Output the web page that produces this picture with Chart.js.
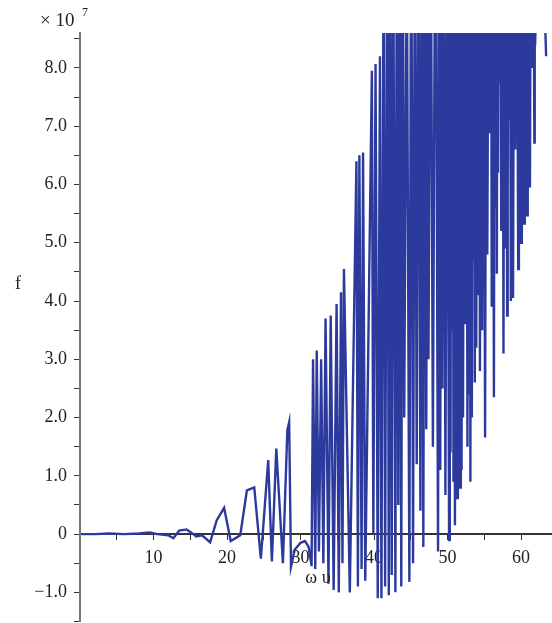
<!DOCTYPE html>
<html>
<head>
<meta charset="utf-8">
<script src="https://cdn.jsdelivr.net/npm/chart.js@4.4.1/dist/chart.umd.min.js"></script>
<style>
  html, body { margin: 0; padding: 0; background: #fff; }
  #wrap { width: 552px; height: 623px; position: relative; }
</style>
</head>
<body>
<div id="wrap"><canvas id="chart"></canvas></div>
<script>
// f values are in units of 10^7 (see the "× 10^7" label)
// quiet part, small oscillation
const omegaQuiet = [0.3, 2, 4, 6, 8, 9.5, 10.5, 12, 12.7, 13.5, 14.5, 15.2, 15.8, 16.6, 17.7, 18.6, 19.6, 20.5, 21.8, 22.7, 23.7, 24.6, 25.6, 26.1, 26.7, 27.6, 28.2, 28.45, 28.7, 29.2, 30, 30.6, 31.1, 31.5];
const fQuiet = [0, 0, 0.01, 0, 0.01, 0.03, 0, -0.02, -0.07, 0.06, 0.08, 0.02, -0.04, -0.02, -0.14, 0.24, 0.45, -0.12, -0.02, 0.75, 0.8, -0.42, 1.27, -0.47, 1.47, -0.5, 1.78, 1.92, -0.56, -0.27, -0.15, -0.12, -0.22, -0.55];

// onset of the big spikes
const omegaOnset = [31.7, 32.0, 32.2, 32.5, 32.8, 33.1, 33.4, 33.8, 34.1, 34.5, 34.9, 35.2, 35.5, 35.7, 35.9, 36.7, 37.6, 37.8, 38.0, 38.3, 38.5, 38.8, 39.7, 39.9, 40.2, 40.5, 40.8, 41.0, 41.3, 41.5, 41.8, 42.0, 42.2, 42.4, 42.6, 42.9, 43.1];
const fOnset = [3.0, -0.6, 3.15, -0.3, 3.0, -0.5, 3.7, -0.85, 3.75, -0.96, 3.95, -1.0, 4.15, -0.5, 4.55, -1.0, 6.4, -0.9, 6.5, -0.6, 6.55, -0.8, 7.95, 0.0, 8.07, -1.1, 8.2, -1.1, 10.4, -0.9, 11.2, -1.05, 9.9, -0.7, 10.8, -1.0, 11.5];

// saturated part, peaks run off the top of the plot
const omegaSat = [43.3, 43.5, 43.7, 43.9, 44.1, 44.45, 44.8, 45.05, 45.3, 45.55, 45.8, 46.05, 46.3, 46.5, 46.7, 46.9, 47.1, 47.25, 47.4, 47.7, 48.0, 48.35, 48.7, 48.85, 49.0, 49.15, 49.3, 49.5, 49.7, 49.95, 50.2, 50.3, 50.4, 50.5, 50.6, 50.7, 50.8, 50.9, 51.0, 51.15, 51.3, 51.4, 51.5, 51.6, 51.7, 51.8, 51.9, 52.0, 52.1, 52.25, 52.4, 52.55, 52.7, 52.8, 52.9, 53.0, 53.1, 53.2, 53.3, 53.4, 53.5, 53.6, 53.7, 53.8, 53.9, 54.05, 54.2, 54.3, 54.4, 54.55, 54.7, 54.9, 55.1, 55.25, 55.4, 55.6, 55.8, 55.9, 56.0, 56.15, 56.3, 56.4, 56.5, 56.6, 56.7, 56.78, 56.85, 56.92, 57.0, 57.15, 57.3, 57.45, 57.6, 57.72, 57.85, 57.98, 58.1, 58.15, 58.2, 58.3, 58.4, 58.5, 58.6, 58.68, 58.75, 58.82, 58.9, 59.05, 59.2, 59.4, 59.6, 59.7, 59.8, 59.9, 60.0, 60.1, 60.2, 60.3, 60.4, 60.5, 60.6, 60.7, 60.8, 60.9, 61.0, 61.1, 61.2, 61.35, 61.5, 61.65, 61.8, 61.85, 61.9, 62.6, 63.4];
const fSat = [0.5, 10.6, -0.9, 11.4, 2.0, 10.2, -0.82, 11.8, -0.5, 10.9, 1.2, 12.1, 0.4, 10.5, -0.22, 11.6, 1.8, 10.1, 3.0, 11.3, 1.5, 12.4, -0.3, 10.8, 1.1, 11.1, 2.5, 12.0, 0.67, 10.7, -0.1, 11.9, 1.4, 12.6, 3.5, 11.2, 0.9, 10.8, 0.15, 12.0, 0.62, 11.4, 2.2, 10.7, 0.8, 11.9, 1.1, 12.5, 2.0, 11.1, 3.6, 12.2, 1.5, 10.9, 2.4, 11.7, 0.9, 12.4, 2.0, 11.3, 4.7, 12.0, 2.6, 10.6, 3.2, 11.4, 4.1, 12.1, 2.8, 10.5, 3.5, 11.6, 1.66, 10.1, 4.8, 11.3, 6.9, 12.4, 3.9, 10.8, 2.35, 11.1, 5.6, 12.0, 4.47, 10.7, 6.2, 11.9, 7.74, 10.4, 5.2, 12.3, 3.1, 11.0, 4.9, 10.6, 3.75, 12.2, 5.9, 11.5, 7.1, 10.9, 4.0, 12.6, 6.0, 11.2, 4.05, 10.8, 6.6, 12.0, 4.55, 11.4, 7.3, 10.7, 5.0, 11.9, 7.9, 12.5, 5.33, 11.1, 7.0, 12.2, 5.47, 10.9, 7.6, 11.7, 5.95, 12.4, 8.0, 11.3, 6.72, 12.0, 8.39, 11.6, 8.2];

const xTickLabels = [10, 20, 30, 40, 50, 60];
const yTickLabels = [-1, 0, 1, 2, 3, 4, 5, 6, 7, 8];

const omega = omegaQuiet.concat(omegaOnset, omegaSat);
const fVals = fQuiet.concat(fOnset, fSat);
const points = omega.map((w, i) => ({ x: w, y: fVals[i] }));

const SERIF = '"Liberation Serif", "DejaVu Serif", serif';
const INK = '#2b3a9c';

const annotations = {
    id: 'annotations',
    afterDraw(chart) {
        const ctx = chart.ctx;
        ctx.save();
        ctx.fillStyle = '#222';
        ctx.textBaseline = 'alphabetic';
        // multiplier on the y axis
        ctx.font = '19px ' + SERIF;
        ctx.textAlign = 'left';
        ctx.fillText('\u00d7 10', 40, 26);
        ctx.font = '12px ' + SERIF;
        ctx.fillText('7', 82, 16);
        // axis names
        ctx.font = '18px ' + SERIF;
        ctx.textAlign = 'center';
        ctx.fillText('f', 18, 289);
        ctx.fillText('\u03c9 \u03c5', 318, 583);
        ctx.restore();
    }
};

new Chart(document.getElementById('chart'), {
    type: 'line',
    data: {
        datasets: [{
            data: points,
            borderColor: INK,
            borderWidth: 2.4,
            pointRadius: 0,
            tension: 0,
            fill: false
        }]
    },
    options: {
        responsive: true,
        maintainAspectRatio: false,
        animation: false,
        events: [],
        layout: { padding: { left: 0, right: 0, top: 33, bottom: 1.5 } },
        plugins: { legend: { display: false }, tooltip: { enabled: false } },
        scales: {
            x: {
                type: 'linear',
                position: { y: 0 },
                z: 1,
                min: 0,
                max: 64.2,
                border: { display: true, color: '#333', width: 2 },
                grid: { drawOnChartArea: false, drawTicks: true, tickLength: 5, color: '#333', tickColor: '#333' },
                ticks: {
                    stepSize: 5,
                    includeBounds: false,
                    autoSkip: false,
                    maxRotation: 0,
                    padding: 8,
                    color: '#222',
                    font: { family: SERIF, size: 18 },
                    callback: v => xTickLabels.includes(v) ? String(v) : ''
                },
                afterFit(s) { s.paddingLeft = 0; s.paddingRight = 0; }
            },
            y: {
                type: 'linear',
                position: 'left',
                min: -1.5,
                max: 8.6,
                border: { display: true, color: '#777', width: 2 },
                grid: { drawOnChartArea: false, drawTicks: true, tickLength: 6, color: '#333', tickColor: '#333' },
                ticks: {
                    stepSize: 0.5,
                    includeBounds: false,
                    autoSkip: false,
                    padding: 7,
                    color: '#222',
                    font: { family: SERIF, size: 18 },
                    callback: v => {
                        const r = Math.round(v);
                        if (Math.abs(v - r) > 1e-9 || !yTickLabels.includes(r)) return '';
                        if (r === 0) return '0';
                        return r < 0 ? '\u2212' + Math.abs(r).toFixed(1) : r.toFixed(1);
                    }
                },
                afterFit(s) { s.width = 80; s.paddingTop = 0; s.paddingBottom = 0; }
            }
        }
    },
    plugins: [annotations]
});
</script>
</body>
</html>
